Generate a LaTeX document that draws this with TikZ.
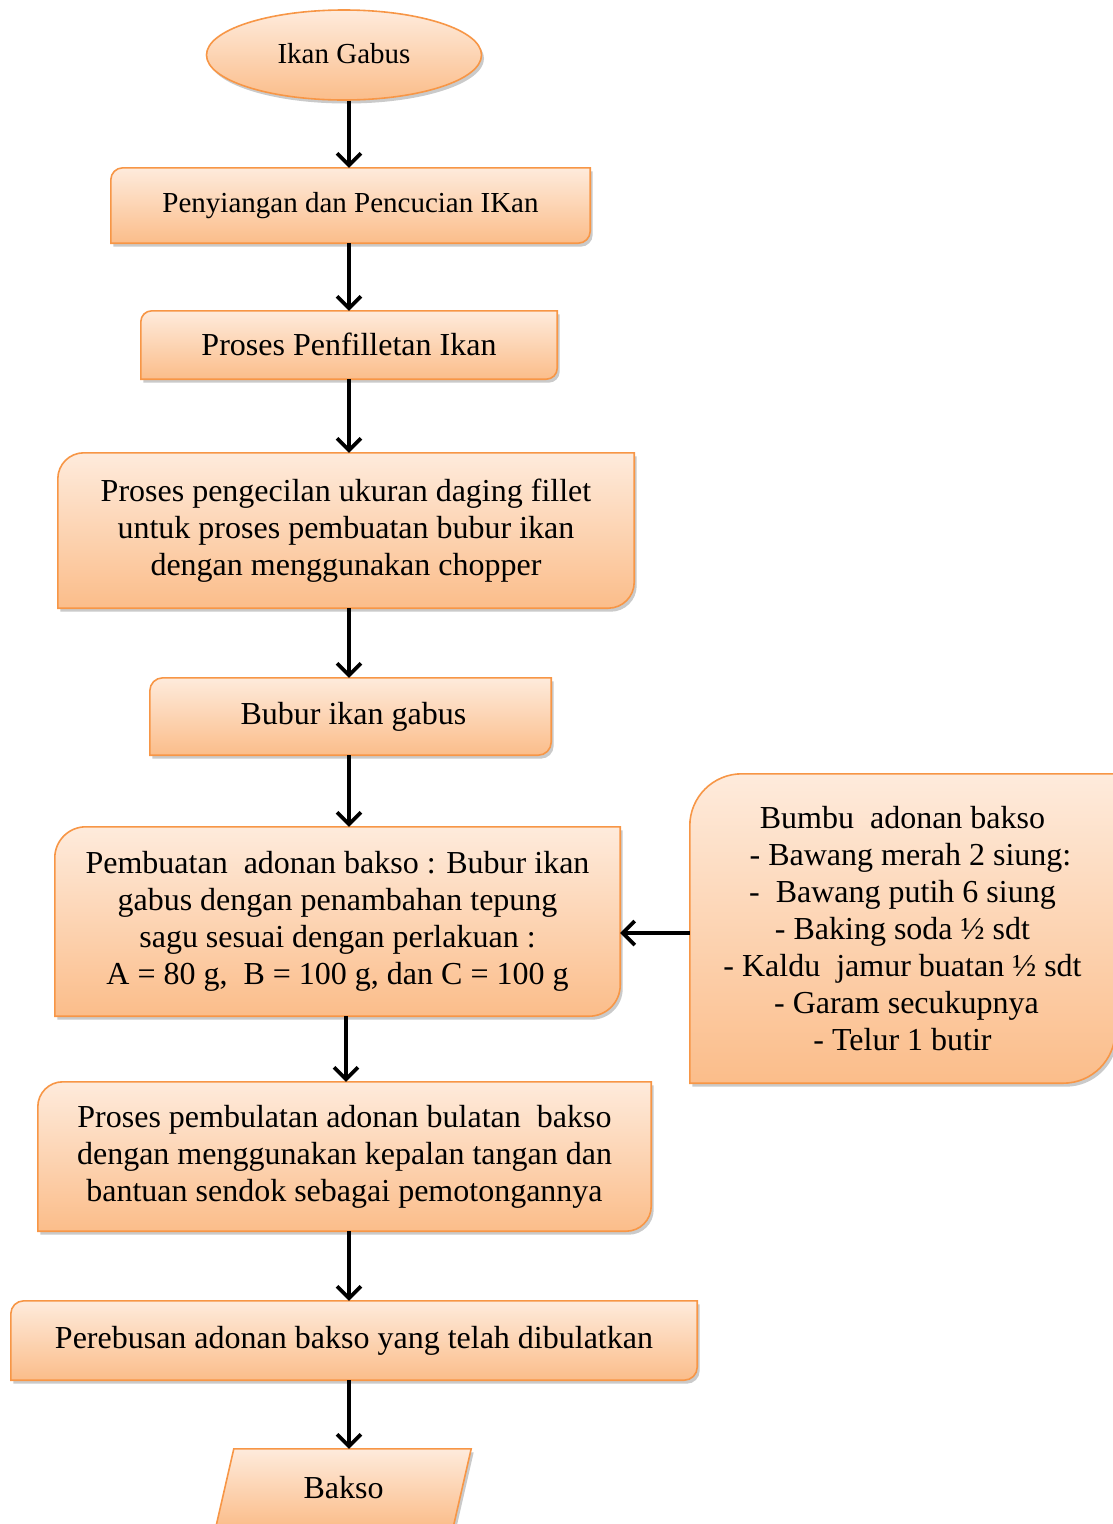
\documentclass[tikz,border=0pt]{standalone}
\usepackage{fontspec}
\setmainfont{Liberation Serif}
\usetikzlibrary{shapes.geometric,arrows.meta,shadows,backgrounds}
\definecolor{peachtop}{RGB}{254,235,220}
\definecolor{peachbot}{RGB}{251,189,138}
\definecolor{orangeline}{RGB}{247,150,70}
\tikzset{
  boxfill/.style={top color=peachtop, bottom color=peachbot, draw=orangeline, line width=1.6pt,
    drop shadow={shadow xshift=2.5pt, shadow yshift=-3.5pt, opacity=0.35, fill=black!60}},
  holder/.style={inner sep=0pt, align=center, font=\fontsize{32}{37}\selectfont},
  smalltxt/.style={font=\fontsize{29}{34}\selectfont},
  arr/.style={line width=3.6pt, -{Straight Barb[length=12pt,width=24pt,line width=3.6pt]}},
}
\newcommand{\rdbox}[2]{%
  \begin{pgfonlayer}{background}
  \path[boxfill] ([yshift=-#2pt]#1.north west) arc[start angle=180,end angle=90,radius=#2pt]
    -- (#1.north east) -- ([yshift=#2pt]#1.south east) arc[start angle=0,end angle=-90,radius=#2pt]
    -- (#1.south west) -- cycle;
  \end{pgfonlayer}}
\begin{document}
\begin{tikzpicture}[x=1pt,y=1pt]
\useasboundingbox (0,0) rectangle (1113,-1524);
\coordinate (ax) at (349,0);
\coordinate (bx) at (346,0);
\coordinate (ay) at (0,-933);

\node[ellipse, boxfill, minimum width=275pt, minimum height=90pt, inner sep=0pt, smalltxt] (n1) at (344,-55) {\raisebox{4pt}{Ikan Gabus}};

\node[holder, smalltxt, minimum width=479pt, minimum height=75pt] (n2) at (350.5,-205.5) {\raisebox{2pt}{Penyiangan dan Pencucian IKan}};
\rdbox{n2}{12}

\node[holder, minimum width=416pt, minimum height=68pt] (n3) at (349,-345) {\raisebox{1pt}{Proses Penfilletan Ikan}};
\rdbox{n3}{11}

\node[holder, minimum width=576pt, minimum height=155pt] (n4) at (346,-530.5) {Proses pengecilan ukuran daging fillet\\untuk proses pembuatan bubur ikan\\dengan menggunakan chopper};
\rdbox{n4}{26}

\node[holder, minimum width=401pt, minimum height=77pt] (n5) at (350.5,-716.5) {\hspace*{6pt}Bubur ikan gabus};
\rdbox{n5}{13}

\node[holder, minimum width=565pt, minimum height=189pt] (n6) at (337.5,-921.5) {Pembuatan\ \ adonan bakso : Bubur ikan\\gabus dengan penambahan tepung\\sagu sesuai dengan perlakuan :\\A = 80 g,\ \ B = 100 g, dan C = 100 g};
\rdbox{n6}{31}

\node[holder, minimum width=425pt, minimum height=309pt] (n7) at (902.5,-928.5) {Bumbu\ \ adonan bakso\\\ \ - Bawang merah 2 siung:\\-\ \ Bawang putih 6 siung\\- Baking soda ½ sdt\\- Kaldu\ \ jamur buatan ½ sdt\\\ - Garam secukupnya\\- Telur 1 butir};
\rdbox{n7}{52}

\node[holder, minimum width=613pt, minimum height=149pt] (n8) at (344.5,-1156.5) {Proses pembulatan adonan bulatan\ \ bakso\\dengan menggunakan kepalan tangan dan\\bantuan sendok sebagai pemotongannya};
\rdbox{n8}{25}

\node[holder, minimum width=686pt, minimum height=79pt] (n9) at (354,-1340.5) {Perebusan adonan bakso yang telah dibulatkan};
\rdbox{n9}{13}

\node[holder, minimum width=255pt, minimum height=78pt] (n10) at (343.5,-1488) {Bakso};
\begin{pgfonlayer}{background}
\path[boxfill] (n10.south west) -- ([xshift=18pt]n10.north west) -- (n10.north east) -- ([xshift=-18pt]n10.south east) -- cycle;
\end{pgfonlayer}

\draw[arr] (n1.south -| ax) -- (n2.north -| ax);
\draw[arr] (n2.south -| ax) -- (n3.north -| ax);
\draw[arr] (n3.south -| ax) -- (n4.north -| ax);
\draw[arr] (n4.south -| ax) -- (n5.north -| ax);
\draw[arr] (n5.south -| ax) -- (n6.north -| ax);
\draw[arr] (n6.south -| bx) -- (n8.north -| bx);
\draw[arr] (n8.south -| ax) -- (n9.north -| ax);
\draw[arr] (n9.south -| ax) -- (n10.north -| ax);
\draw[arr] (n7.west |- ay) -- (n6.east |- ay);
\end{tikzpicture}
\end{document}
